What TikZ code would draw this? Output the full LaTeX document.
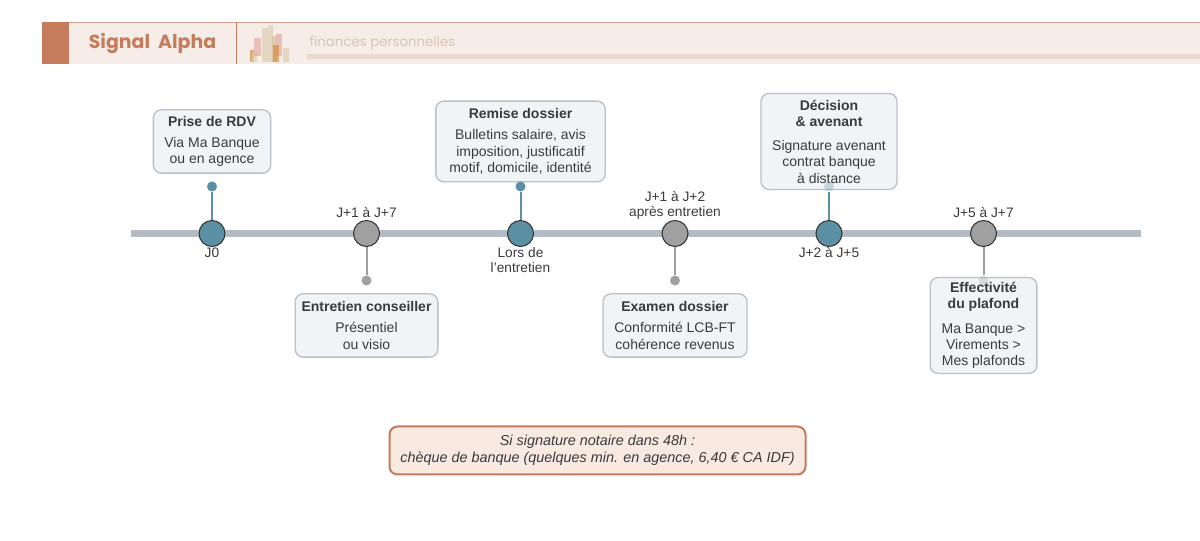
\documentclass[tikz,border=0pt]{standalone}
\usepackage{fontspec}
\setmainfont{Liberation Sans}
\newfontfamily\titlefont{Poppins}
\usetikzlibrary{positioning}
\definecolor{bandfill}{HTML}{F7EDE8}
\definecolor{terra}{HTML}{C47C5C}
\definecolor{sandtxt}{HTML}{D8C6AE}
\definecolor{sandbar}{HTML}{E8D9CC}
\definecolor{axisgrey}{HTML}{B5BBC4}
\definecolor{teal}{HTML}{5B8FA3}
\definecolor{greydot}{HTML}{A0A0A0}
\definecolor{cardfill}{HTML}{F1F4F7}
\definecolor{cardline}{HTML}{B8C0C9}
\definecolor{inktxt}{HTML}{3A3A3A}
\definecolor{notefill}{HTML}{F8E9E1}
\definecolor{logopink}{HTML}{E2A8A0}
\definecolor{logoorange}{HTML}{D98A30}
\definecolor{logosand}{HTML}{DCCBB0}
\begin{document}
\begin{tikzpicture}
	[
		x=0.75pt, y=-0.75pt,
		every node/.style={font=\fontsize{10.5}{12.2}\selectfont, text=inktxt},
		card/.style={draw=cardline, fill=cardfill, line width=1pt, rounded corners=6pt, align=center, inner sep=0pt},
		daylabel/.style={align=center, font=\fontsize{10.3}{10.8}\selectfont},
		mainstop/.style={circle, draw=black!80, fill=teal, line width=0.8pt, minimum size=19.5pt, inner sep=0pt},
		waitstop/.style={circle, draw=black!80, fill=greydot, line width=0.8pt, minimum size=19.5pt, inner sep=0pt},
		maintip/.style={circle, fill=teal, minimum size=7.5pt, inner sep=0pt},
		waittip/.style={circle, fill=greydot, minimum size=7.5pt, inner sep=0pt},
		mainstem/.style={draw=teal, line width=1.5pt},
		waitstem/.style={draw=greydot, line width=1.5pt},
		logobar/.style={draw=none, opacity=0.65}
	]
	\useasboundingbox (0,0) rectangle (1200,541);

	% header band
	\fill [bandfill] (42,22) rectangle (1200,64);
	\draw [terra!70, line width=0.6pt] (42,22) -- (1200,22);
	\fill [terra] (42,22) rectangle (69,64);
	\draw [terra, line width=0.7pt] (236,22) -- (236,64);
	\node (brand) at (152.5,43.5) {\titlefont\fontsize{14.2}{18}\selectfont\color{terra}\textbf{Signal~~Alpha}};
	\node (topic) at (382.5,43) {\titlefont\fontsize{10}{12}\selectfont\color{sandtxt} finances personnelles};
	\fill [sandbar] (307,54) rectangle (1200,59);

	% logo
	\fill [logobar, fill=logoorange] (250,50) rectangle (254,62);
	\fill [logobar, fill=logosand] (252,53) rectangle (257,62);
	\fill [logobar, fill=logopink] (254,38) rectangle (261,56);
	\fill [logobar, fill=logosand] (262,28) rectangle (268,62);
	\fill [logobar, fill=logosand] (268,25) rectangle (273,62);
	\fill [logobar, fill=logosand!80!brown] (272,36) rectangle (277,62);
	\fill [logobar, fill=logopink] (276,34) rectangle (282,56);
	\fill [logobar, fill=logoorange] (273,45) rectangle (279,62);
	\fill [logobar, fill=logosand] (283,48) rectangle (289,62);

	% axis
	\coordinate (axisL) at (131,233.5);
	\coordinate (axisR) at (1141,233.5);
	\draw [axisgrey, line width=5.2pt] (axisL) -- (axisR);

	% cards
	\node (rdv) at (212,141.5) [card, minimum width=88pt, minimum height=47.5pt]
		{\textbf{Prise de RDV}\\[3.5pt]Via Ma Banque\\ou en agence};
	\node (conseil) at (366.5,325.5) [card, minimum width=107pt, minimum height=47.5pt]
		{\textbf{Entretien conseiller}\\[3.5pt]Présentiel\\ou visio};
	\node (dossier) at (520.5,141.5) [card, minimum width=127pt, minimum height=60.5pt]
		{\textbf{Remise dossier}\\[3.5pt]Bulletins salaire, avis\\imposition, justificatif\\motif, domicile, identité};
	\node (examen) at (675,325.5) [card, minimum width=108pt, minimum height=47.5pt]
		{\textbf{Examen dossier}\\[3.5pt]Conformité LCB-FT\\cohérence revenus};
	\node (avenant) at (829,141.5) [card, minimum width=102pt, minimum height=72pt]
		{\textbf{Décision}\\\textbf{\&~avenant}\\[6pt]Signature avenant\\contrat banque\\à distance};
	\node (plafond) at (983.5,325.5) [card, minimum width=80pt, minimum height=72pt]
		{\textbf{Effectivité}\\\textbf{du plafond}\\[6pt]Ma Banque >\\Virements >\\Mes plafonds};

	% stops
	\node (s1) at (212,233.5) [mainstop] {};
	\node (s2) at (366.5,233.5) [waitstop] {};
	\node (s3) at (520.5,233.5) [mainstop] {};
	\node (s4) at (675,233.5) [waitstop] {};
	\node (s5) at (829,233.5) [mainstop] {};
	\node (s6) at (983.5,233.5) [waitstop] {};

	\node (t1) at (212,186.5) [maintip] {};
	\node (t2) at (366.5,280.5) [waittip] {};
	\node (t3) at (520.5,186.5) [maintip] {};
	\node (t4) at (675,280.5) [waittip] {};
	\node (t5) at (829,186.5) [maintip, opacity=0.3] {};
	\node (t6) at (983.5,280.5) [waittip, opacity=0.3] {};

	\draw [mainstem] (t1) -- (s1);
	\draw [waitstem] (s2) -- (t2);
	\draw [mainstem] (t3) -- (s3);
	\draw [waitstem] (s4) -- (t4);
	\draw [mainstem] (t5) -- (s5);
	\draw [waitstem] (s6) -- (t6);

	% day labels
	\node (d1) at (212,253) [daylabel] {J0};
	\node (d2) at (366.5,213) [daylabel] {J+1 à J+7};
	\node (d3) at (520.5,260) [daylabel] {Lors de\\l'entretien};
	\node (d4) at (675,205.5) [daylabel] {J+1 à J+2\\après entretien};
	\node (d5) at (829,253) [daylabel] {J+2 à J+5};
	\node (d6) at (983.5,213) [daylabel] {J+5 à J+7};

	% note
	\node (note) at (597.5,450.5) [draw=terra, fill=notefill, line width=1.5pt, rounded corners=6pt, minimum width=312pt, minimum height=36pt, align=center, inner sep=0pt, font=\fontsize{10.8}{12.8}\selectfont]
		{\itshape Si signature notaire dans 48h :\\\itshape chèque de banque (quelques min. en agence, 6,40 € CA IDF)};
\end{tikzpicture}
\end{document}
